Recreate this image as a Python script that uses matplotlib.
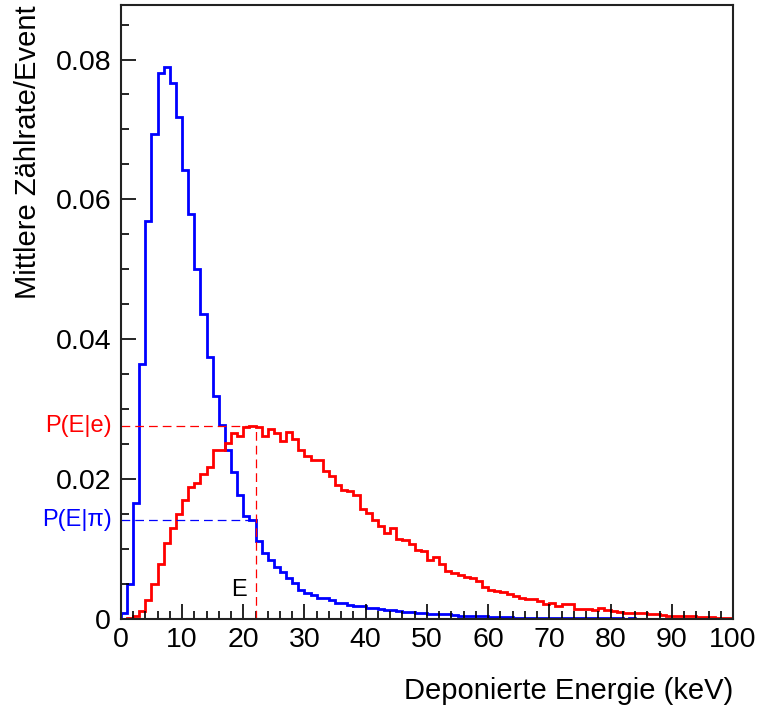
import numpy as np
import matplotlib
matplotlib.use('Agg')
import matplotlib.pyplot as plt

plt.rcParams['font.family'] = ['Liberation Sans', 'DejaVu Sans']

# bin edges 0..100 keV, 1 keV per bin
edges = np.arange(0, 101, 1)

# pions (blue)
pion = [0.0008, 0.0050, 0.0166, 0.0364, 0.0569, 0.0693, 0.0780, 0.0789, 0.0766, 0.0718,
        0.0642, 0.0579, 0.0500, 0.0436, 0.0375, 0.0319, 0.0277, 0.0241, 0.0210, 0.0177,
        0.0147, 0.0141, 0.0111, 0.0094, 0.0084, 0.0075, 0.0067, 0.0058, 0.0051, 0.0041,
        0.0037, 0.0034, 0.0030, 0.0030, 0.0027, 0.0023, 0.0023, 0.0020, 0.0019, 0.0018,
        0.0016, 0.0016, 0.0014, 0.0013, 0.0013, 0.0011, 0.0010, 0.0010, 0.0009, 0.0008,
        0.0007, 0.0007, 0.0007, 0.0007, 0.0006, 0.0005, 0.0005, 0.0005, 0.0004, 0.0004,
        0.0003, 0.0003, 0.0003, 0.0003, 0.0002, 0.0002, 0.0002, 0.0002, 0.0002, 0.0001,
        0.0001, 0.0001, 0.0001, 0.0001, 0.0001, 0.0001, 0.0001, 0.0001, 0.0001, 0.0001,
        0.0001, 0.0001, 0.0000, 0.0001, 0.0000, 0.0000, 0.0000, 0.0000, 0.0000, 0.0000,
        0.0000, 0.0000, 0.0000, 0.0000, 0.0000, 0.0000, 0.0000, 0.0000, 0.0000, 0.0000]

# electrons (red)
electron = [0.0000, 0.0002, 0.0005, 0.0011, 0.0027, 0.0050, 0.0078, 0.0108, 0.0130, 0.0150,
            0.0170, 0.0189, 0.0195, 0.0208, 0.0217, 0.0242, 0.0242, 0.0252, 0.0266, 0.0262,
            0.0275, 0.0276, 0.0275, 0.0261, 0.0271, 0.0266, 0.0255, 0.0268, 0.0257, 0.0241,
            0.0233, 0.0227, 0.0228, 0.0212, 0.0204, 0.0192, 0.0184, 0.0183, 0.0178, 0.0158,
            0.0151, 0.0141, 0.0133, 0.0123, 0.0130, 0.0115, 0.0113, 0.0107, 0.0099, 0.0097,
            0.0084, 0.0088, 0.0078, 0.0069, 0.0066, 0.0063, 0.0060, 0.0059, 0.0054, 0.0046,
            0.0042, 0.0040, 0.0038, 0.0036, 0.0033, 0.0030, 0.0028, 0.0028, 0.0026, 0.0021,
            0.0023, 0.0019, 0.0022, 0.0021, 0.0015, 0.0015, 0.0015, 0.0013, 0.0016, 0.0013,
            0.0011, 0.0010, 0.0009, 0.0009, 0.0008, 0.0008, 0.0007, 0.0007, 0.0006, 0.0005,
            0.0005, 0.0004, 0.0004, 0.0004, 0.0003, 0.0003, 0.0003, 0.0002, 0.0002, 0.0001]

e_cut = 22  # marked energy E (keV)

fig = plt.figure(figsize=(7.6, 7.08), dpi=100)
ax = fig.add_axes([0.159, 0.1257, 0.8055, 0.8673])

ax.stairs(pion, edges, color='#0000ff', lw=2.0, baseline=0)
ax.stairs(electron, edges, color='#ff0000', lw=2.0, baseline=0)

p_e = electron[e_cut - 1]
p_pi = pion[e_cut - 1]
ax.plot([0, e_cut], [p_e, p_e], color='#ff0000', lw=0.9, ls=(0, (7, 4)))
ax.plot([e_cut, e_cut], [0, p_e], color='#ff0000', lw=0.9, ls=(0, (7, 4)))
ax.plot([0, e_cut], [p_pi, p_pi], color='#0000ff', lw=0.9, ls=(0, (7, 4)))

ax.text(-0.015, p_e, 'P(E|e)', color='#ff0000', fontsize=17, ha='right', va='center',
        transform=ax.get_yaxis_transform())
ax.text(-0.015, p_pi, 'P(E|\u03c0)', color='#0000ff', fontsize=17, ha='right', va='center',
        transform=ax.get_yaxis_transform())
ax.text(19.3, 0.0041, 'E', color='black', fontsize=17, ha='center', va='center')

ax.set_xlim(0, 100)
ax.set_ylim(0, 0.0878)
ax.set_xticks(np.arange(0, 101, 10))
ax.set_xticks(np.arange(0, 101, 2), minor=True)
ax.set_yticks([0, 0.02, 0.04, 0.06, 0.08])
ax.set_yticklabels(['0', '0.02', '0.04', '0.06', '0.08'])
ax.set_yticks(np.arange(0, 0.088, 0.005), minor=True)
ax.tick_params(which='both', direction='in', top=False, right=False, labelsize=20.5, width=1.2)
ax.tick_params(which='major', length=11)
ax.tick_params(which='minor', length=5.5)
ax.tick_params(axis='y', pad=7)
ax.tick_params(axis='x', pad=6)
for s in ax.spines.values():
    s.set_linewidth(1.5)
    s.set_color('#222222')

ax.set_xlabel('Deponierte Energie (keV)', fontsize=21, loc='right', labelpad=17)
ax.set_ylabel('Mittlere Z\u00e4hlrate/Event', fontsize=21, loc='top', labelpad=10)

fig.savefig('out.png', dpi=100)
